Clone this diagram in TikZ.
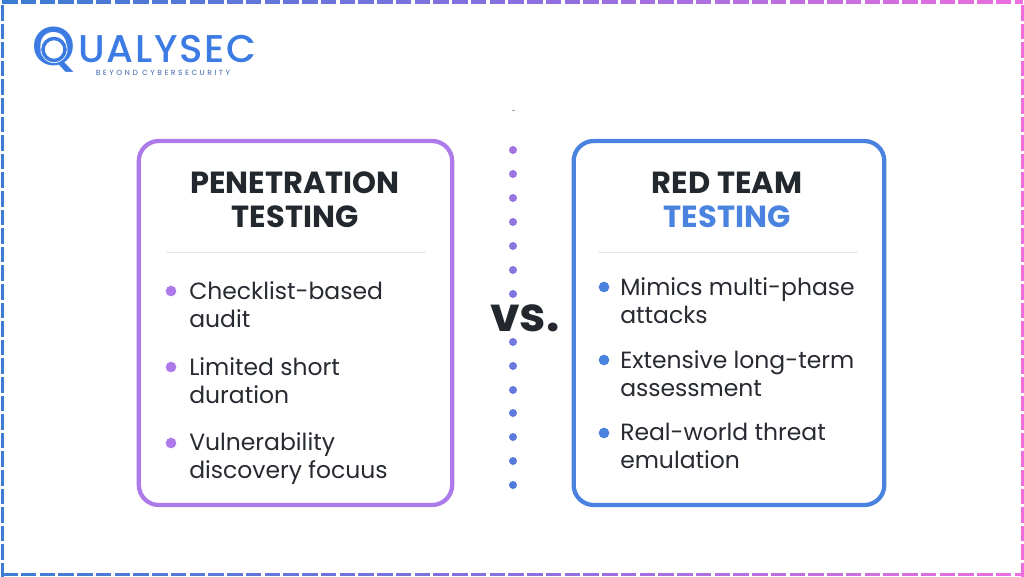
\documentclass[tikz,border=0pt]{standalone}
\usepackage{fontspec}
\setmainfont{Poppins}
\newfontfamily\popbold{Poppins}[UprightFont=* Bold]
\newfontfamily\popmed{Poppins}[UprightFont=* Medium]
\newfontfamily\poplogo{Poppins}[UprightFont=* Medium,LetterSpace=4.5]
\newfontfamily\poptag{Poppins}[UprightFont=* Medium,LetterSpace=33]
\definecolor{purp}{HTML}{AD7BE9}
\definecolor{blu}{HTML}{4A82E0}
\definecolor{dotA}{HTML}{A274E2}
\definecolor{dotB}{HTML}{4F7BDC}
\definecolor{ink}{HTML}{23282E}
\definecolor{body}{HTML}{272B31}
\definecolor{logo}{HTML}{3B7BE3}
\definecolor{tagc}{HTML}{5F80B8}
\definecolor{rulec}{HTML}{E6E6E6}
\definecolor{bdL}{HTML}{3B7DD3}
\definecolor{bdM}{HTML}{8A6FE0}
\definecolor{bdR}{HTML}{EE6EDF}
\tikzset{
  panel/.style={draw,line width=3.2pt,rounded corners=15pt,fill=white},
  heading/.style={font=\popbold\fontsize{22.9}{25.5}\selectfont,align=center,text=ink,inner sep=0pt},
  item/.style={font=\fontsize{17.6}{21}\selectfont,align=left,anchor=north west,text=body,inner sep=0pt},
  dotm/.style={circle,inner sep=0pt,minimum size=6pt},
  bull/.style={circle,inner sep=0pt,minimum size=8pt},
  sep/.style={draw=rulec,line width=0.75pt},
}
\newcommand{\bordercol}[1]{%
  \pgfmathsetmacro{\tt}{#1/1024}%
  \ifdim\tt pt<0.5pt
    \pgfmathsetmacro{\pp}{\tt*200}%
    \colorlet{bd}{bdM!\pp!bdL}%
  \else
    \pgfmathsetmacro{\pp}{(\tt-0.5)*200}%
    \colorlet{bd}{bdR!\pp!bdM}%
  \fi}
\begin{document}
\begin{tikzpicture}[x=0.75pt,y=-0.75pt]
\useasboundingbox (0,0) rectangle (1024,576);
\fill[white] (0,0) rectangle (1024,576);
% dashed gradient frame
\foreach \i in {0,...,54}{
  \pgfmathsetmacro{\xa}{2+\i*18.75}
  \pgfmathsetmacro{\xb}{min(\xa+15.5,1023)}
  \bordercol{\xa}
  \fill[bd] (\xa,0) rectangle (\xb,3.5);
  \fill[bd] (\xa,572.5) rectangle (\xb,576);
}
\foreach \i in {0,...,30}{
  \pgfmathsetmacro{\ya}{5+\i*18.6}
  \pgfmathsetmacro{\yb}{\ya+15.5}
  \fill[bdL] (1,\ya) rectangle (3.5,\yb);
  \fill[bdR] (1020.5,\ya) rectangle (1024,\yb);
}
% logo
\node[text=logo,inner sep=0pt,font=\popmed\fontsize{41}{41}\selectfont,anchor=base] (lq) at (54,65) {Q};
\fill[white] (54,49.5) circle (13.5);
\draw[logo,line width=2.6pt] (54,49.5) circle (11);
\node[text=logo,inner sep=0pt,anchor=base west,text height=20pt,text depth=0pt,font=\poplogo\fontsize{29}{29}\selectfont] (lt) at (78,62) {UALYSEC};
\node[text=tagc,inner sep=0pt,text height=4pt,text depth=0pt,anchor=base,font=\poptag\fontsize{5.6}{6}\selectfont] (ls) at (163,75) {BEYOND CYBERSECURITY};
% divider
\fill[gray!70] (511.5,109.6) rectangle (514.5,110.6);
\foreach \n/\y/\c in {0/150/0,1/174/7,2/198/14,3/222/21,4/246/28,5/270/35,6/294/42,8/342/57,9/366/64,10/390/71,11/413/78,12/437/85,13/461/92,14/485/100}{
  \node[dotm,fill=dotB!\c!dotA] (d\n) at (513,\y) {};
}
% panels
\node[panel,draw=purp,minimum width=235pt,minimum height=273pt,inner sep=0pt] (pl) at (295.5,323) {};
\node[panel,draw=blu,minimum width=233pt,minimum height=273pt,inner sep=0pt] (pr) at (729,323) {};
% headings
\node[heading] (hl) at (295,200) {PENETRATION\\TESTING};
\node[heading] (hr) at (727,200) {RED TEAM\\\textcolor{blu}{TESTING}};
\draw[sep] (166,252.5) -- (426,252.5);
\draw[sep] (598,252.5) -- (858,252.5);
% left items
\node[bull,fill=purp] (bl1) at (171,291) {};
\node[item] (il1) at (189,281) {Checklist-based\\audit};
\node[bull,fill=purp] (bl2) at (171,367) {};
\node[item] (il2) at (189,357) {Limited short\\duration};
\node[bull,fill=purp] (bl3) at (171,443) {};
\node[item] (il3) at (189,432.5) {Vulnerability\\discovery focuus};
% right items
\node[bull,fill=blu] (br1) at (604,287) {};
\node[item] (ir1) at (620,277) {Mimics multi-phase\\attacks};
\node[bull,fill=blu] (br2) at (604,360) {};
\node[item] (ir2) at (620,350) {Extensive long-term\\assessment};
\node[bull,fill=blu] (br3) at (604,433) {};
\node[item] (ir3) at (620,423) {Real-world threat\\emulation};
% vs
\node[inner sep=0pt,text=ink,anchor=base,font=\popbold\fontsize{35.5}{38}\selectfont] (vst) at (525,331) {vs.};
\end{tikzpicture}
\end{document}
